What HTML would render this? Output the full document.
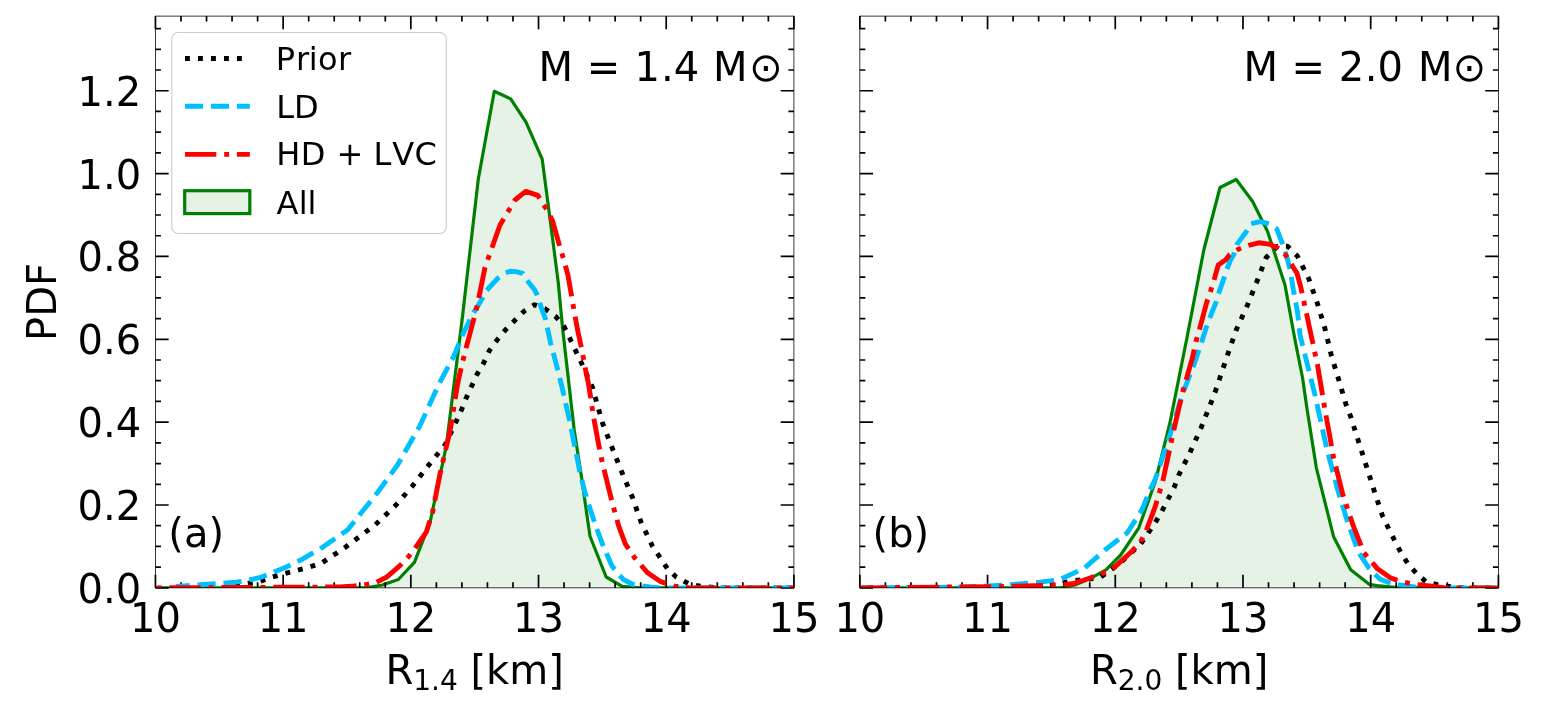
<!DOCTYPE html>
<html><head><meta charset="utf-8"><title>PDF R1.4 R2.0</title>
<style>
html,body{margin:0;padding:0;background:#fff;overflow:hidden;}
svg{display:block;}
text{font-kerning:none;}
.t40{font-family:"DejaVu Sans","Liberation Sans",sans-serif;font-size:40px;fill:#000;}
.t32{font-family:"DejaVu Sans","Liberation Sans",sans-serif;font-size:32px;fill:#000;}
.sub{font-size:28px;}
</style></head>
<body>
<svg width="1542" height="704" viewBox="0 0 1542 704">
<rect x="0" y="0" width="1542" height="704" fill="#fff"/>
<clipPath id="c0"><rect x="155.45" y="16.1" width="638.45" height="571.90"/></clipPath>
<g clip-path="url(#c0)">
<polygon points="155.4,587.85 350.3,587.85 366.3,587.85 382.3,585.00 398.3,579.50 414.4,562.30 430.0,522.50 446.3,446.00 462.3,318.00 478.3,179.00 494.3,91.25 510.7,98.90 526.0,122.20 542.2,159.20 552.7,239.40 558.2,282.00 562.7,329.40 574.2,430.00 581.2,475.00 590.0,536.25 606.2,577.00 622.2,586.30 640.0,587.85 793.9,587.85 793.9,587.85 155.45,587.85" fill="#008000" fill-opacity="0.1" stroke="none"/>
<polyline points="155.4,587.85 350.3,587.85 366.3,587.85 382.3,585.00 398.3,579.50 414.4,562.30 430.0,522.50 446.3,446.00 462.3,318.00 478.3,179.00 494.3,91.25 510.7,98.90 526.0,122.20 542.2,159.20 552.7,239.40 558.2,282.00 562.7,329.40 574.2,430.00 581.2,475.00 590.0,536.25 606.2,577.00 622.2,586.30 640.0,587.85 793.9,587.85" fill="none" stroke="#008000" stroke-width="3.2" stroke-linejoin="round"/>
</g>
<path d="M155.45,587.85v-13.2M155.45,16.1v13.2M180.99,587.85v-5.5M180.99,16.1v5.5M206.53,587.85v-5.5M206.53,16.1v5.5M232.06,587.85v-5.5M232.06,16.1v5.5M257.60,587.85v-5.5M257.60,16.1v5.5M283.14,587.85v-13.2M283.14,16.1v13.2M308.68,587.85v-5.5M308.68,16.1v5.5M334.22,587.85v-5.5M334.22,16.1v5.5M359.75,587.85v-5.5M359.75,16.1v5.5M385.29,587.85v-5.5M385.29,16.1v5.5M410.83,587.85v-13.2M410.83,16.1v13.2M436.37,587.85v-5.5M436.37,16.1v5.5M461.91,587.85v-5.5M461.91,16.1v5.5M487.44,587.85v-5.5M487.44,16.1v5.5M512.98,587.85v-5.5M512.98,16.1v5.5M538.52,587.85v-13.2M538.52,16.1v13.2M564.06,587.85v-5.5M564.06,16.1v5.5M589.60,587.85v-5.5M589.60,16.1v5.5M615.13,587.85v-5.5M615.13,16.1v5.5M640.67,587.85v-5.5M640.67,16.1v5.5M666.21,587.85v-13.2M666.21,16.1v13.2M691.75,587.85v-5.5M691.75,16.1v5.5M717.29,587.85v-5.5M717.29,16.1v5.5M742.82,587.85v-5.5M742.82,16.1v5.5M768.36,587.85v-5.5M768.36,16.1v5.5M793.90,587.85v-13.2M793.90,16.1v13.2M155.45,587.85h13.2M793.9,587.85h-13.2M155.45,567.14h5.5M793.9,567.14h-5.5M155.45,546.42h5.5M793.9,546.42h-5.5M155.45,525.71h5.5M793.9,525.71h-5.5M155.45,505.00h13.2M793.9,505.00h-13.2M155.45,484.29h5.5M793.9,484.29h-5.5M155.45,463.57h5.5M793.9,463.57h-5.5M155.45,442.86h5.5M793.9,442.86h-5.5M155.45,422.15h13.2M793.9,422.15h-13.2M155.45,401.43h5.5M793.9,401.43h-5.5M155.45,380.72h5.5M793.9,380.72h-5.5M155.45,360.01h5.5M793.9,360.01h-5.5M155.45,339.29h13.2M793.9,339.29h-13.2M155.45,318.58h5.5M793.9,318.58h-5.5M155.45,297.87h5.5M793.9,297.87h-5.5M155.45,277.16h5.5M793.9,277.16h-5.5M155.45,256.44h13.2M793.9,256.44h-13.2M155.45,235.73h5.5M793.9,235.73h-5.5M155.45,215.02h5.5M793.9,215.02h-5.5M155.45,194.30h5.5M793.9,194.30h-5.5M155.45,173.59h13.2M793.9,173.59h-13.2M155.45,152.88h5.5M793.9,152.88h-5.5M155.45,132.16h5.5M793.9,132.16h-5.5M155.45,111.45h5.5M793.9,111.45h-5.5M155.45,90.74h13.2M793.9,90.74h-13.2M155.45,70.02h5.5M793.9,70.02h-5.5M155.45,49.31h5.5M793.9,49.31h-5.5M155.45,28.60h5.5M793.9,28.60h-5.5" stroke="#000" stroke-width="1.7" fill="none"/>
<g clip-path="url(#c0)">
<polyline points="234.0,585.60 246.9,583.70 259.7,581.40 271.4,577.30 284.2,573.80 297.1,570.30 309.9,567.00 322.2,562.70 345.0,547.50 375.0,525.00 395.0,506.00 412.5,486.00 428.8,465.00 445.0,445.00 455.6,422.80 461.2,410.60 466.0,398.40 471.6,386.25 477.2,374.00 483.8,362.80 489.4,350.60 496.9,340.30 505.3,330.00 514.7,320.60 524.0,311.25 534.4,304.70 545.0,308.75 556.2,317.00 564.1,326.60 570.0,338.75 581.2,362.50 592.5,387.50 602.5,423.00 612.5,448.75 622.5,473.75 632.5,497.50 641.2,522.50 652.5,546.25 660.0,557.50 667.5,568.75 676.2,577.00 688.8,583.75 700.0,586.25 720.0,587.85 793.9,587.85" fill="none" stroke="#000000" stroke-width="4.9" stroke-dasharray="4.90,8.09" stroke-dashoffset="11.99" stroke-linejoin="round"/>
<polyline points="176.0,586.40 184.0,585.90 200.0,584.80 218.2,583.50 235.7,582.20 244.7,580.90 261.0,577.30 269.0,574.00 285.0,567.60 301.2,559.80 322.9,547.10 347.5,530.00 377.5,492.50 397.5,465.00 420.0,425.60 438.8,384.40 453.8,356.25 463.1,333.75 473.4,313.00 481.9,299.30 486.2,290.80 498.1,278.00 505.8,272.90 510.0,271.20 516.0,271.60 522.9,273.30 528.0,281.40 534.4,289.50 537.3,295.10 541.2,307.30 545.5,319.20 550.6,343.10 556.6,365.30 562.5,389.20 570.0,422.50 580.0,472.50 585.0,492.50 590.0,508.60 596.6,528.60 603.3,546.30 612.1,566.20 623.2,579.50 634.3,585.00 650.0,587.00 660.0,587.85 793.9,587.85" fill="none" stroke="#00bfff" stroke-width="4.9" stroke-dasharray="18.13,7.84" stroke-dashoffset="4.36" stroke-linejoin="round"/>
<polyline points="155.4,587.85 340.0,587.00 354.5,586.00 364.5,584.80 375.5,582.70 386.4,577.30 399.1,566.40 407.7,557.70 414.5,549.10 426.4,531.80 432.5,512.50 440.0,474.00 450.0,431.25 457.5,384.40 462.5,362.00 466.9,345.00 474.4,316.90 477.2,305.60 485.0,267.50 500.0,225.00 515.0,200.00 525.7,191.40 537.8,195.40 541.3,201.10 547.7,211.00 552.6,221.00 560.2,248.10 564.1,260.90 567.9,275.00 571.7,296.70 574.3,312.00 578.1,332.50 582.0,350.40 584.5,364.50 588.4,383.60 590.9,399.00 593.2,415.10 598.4,443.20 602.2,462.10 607.7,484.30 613.2,506.40 618.8,526.30 625.4,544.10 634.3,557.30 647.6,572.80 660.8,581.70 674.1,586.10 690.0,587.85 793.9,587.85" fill="none" stroke="#ff0000" stroke-width="4.9" stroke-dasharray="31.36,7.84,4.90,7.84" stroke-dashoffset="-14.00" stroke-linejoin="round"/>
</g>
<rect x="155.45" y="16.1" width="638.45" height="571.75" fill="none" stroke="#000" stroke-width="0.78"/>
<text x="155.45" y="632.4" text-anchor="middle" class="t40">10</text>
<text x="283.14" y="632.4" text-anchor="middle" class="t40">11</text>
<text x="410.83" y="632.4" text-anchor="middle" class="t40">12</text>
<text x="538.52" y="632.4" text-anchor="middle" class="t40">13</text>
<text x="666.21" y="632.4" text-anchor="middle" class="t40">14</text>
<text x="793.90" y="632.4" text-anchor="middle" class="t40">15</text>
<clipPath id="c1"><rect x="859.85" y="16.1" width="638.55" height="571.90"/></clipPath>
<g clip-path="url(#c1)">
<polygon points="859.7,587.85 1060.0,587.85 1075.0,585.00 1089.4,578.80 1105.9,569.80 1120.7,555.00 1138.8,527.80 1155.3,481.60 1170.0,422.50 1187.5,335.00 1203.8,250.00 1220.0,187.50 1236.2,179.50 1252.5,201.25 1267.5,231.25 1285.0,285.00 1295.0,340.00 1302.5,377.50 1307.2,410.00 1316.4,468.10 1333.6,536.70 1350.7,569.70 1369.2,584.30 1377.0,585.60 1400.0,587.85 1498.5,587.85 1498.4,587.85 859.85,587.85" fill="#008000" fill-opacity="0.1" stroke="none"/>
<polyline points="859.7,587.85 1060.0,587.85 1075.0,585.00 1089.4,578.80 1105.9,569.80 1120.7,555.00 1138.8,527.80 1155.3,481.60 1170.0,422.50 1187.5,335.00 1203.8,250.00 1220.0,187.50 1236.2,179.50 1252.5,201.25 1267.5,231.25 1285.0,285.00 1295.0,340.00 1302.5,377.50 1307.2,410.00 1316.4,468.10 1333.6,536.70 1350.7,569.70 1369.2,584.30 1377.0,585.60 1400.0,587.85 1498.5,587.85" fill="none" stroke="#008000" stroke-width="3.2" stroke-linejoin="round"/>
</g>
<path d="M859.85,587.85v-13.2M859.85,16.1v13.2M885.39,587.85v-5.5M885.39,16.1v5.5M910.93,587.85v-5.5M910.93,16.1v5.5M936.48,587.85v-5.5M936.48,16.1v5.5M962.02,587.85v-5.5M962.02,16.1v5.5M987.56,587.85v-13.2M987.56,16.1v13.2M1013.10,587.85v-5.5M1013.10,16.1v5.5M1038.64,587.85v-5.5M1038.64,16.1v5.5M1064.19,587.85v-5.5M1064.19,16.1v5.5M1089.73,587.85v-5.5M1089.73,16.1v5.5M1115.27,587.85v-13.2M1115.27,16.1v13.2M1140.81,587.85v-5.5M1140.81,16.1v5.5M1166.35,587.85v-5.5M1166.35,16.1v5.5M1191.90,587.85v-5.5M1191.90,16.1v5.5M1217.44,587.85v-5.5M1217.44,16.1v5.5M1242.98,587.85v-13.2M1242.98,16.1v13.2M1268.52,587.85v-5.5M1268.52,16.1v5.5M1294.06,587.85v-5.5M1294.06,16.1v5.5M1319.61,587.85v-5.5M1319.61,16.1v5.5M1345.15,587.85v-5.5M1345.15,16.1v5.5M1370.69,587.85v-13.2M1370.69,16.1v13.2M1396.23,587.85v-5.5M1396.23,16.1v5.5M1421.77,587.85v-5.5M1421.77,16.1v5.5M1447.32,587.85v-5.5M1447.32,16.1v5.5M1472.86,587.85v-5.5M1472.86,16.1v5.5M1498.40,587.85v-13.2M1498.40,16.1v13.2M859.85,587.85h13.2M1498.4,587.85h-13.2M859.85,567.14h5.5M1498.4,567.14h-5.5M859.85,546.42h5.5M1498.4,546.42h-5.5M859.85,525.71h5.5M1498.4,525.71h-5.5M859.85,505.00h13.2M1498.4,505.00h-13.2M859.85,484.29h5.5M1498.4,484.29h-5.5M859.85,463.57h5.5M1498.4,463.57h-5.5M859.85,442.86h5.5M1498.4,442.86h-5.5M859.85,422.15h13.2M1498.4,422.15h-13.2M859.85,401.43h5.5M1498.4,401.43h-5.5M859.85,380.72h5.5M1498.4,380.72h-5.5M859.85,360.01h5.5M1498.4,360.01h-5.5M859.85,339.29h13.2M1498.4,339.29h-13.2M859.85,318.58h5.5M1498.4,318.58h-5.5M859.85,297.87h5.5M1498.4,297.87h-5.5M859.85,277.16h5.5M1498.4,277.16h-5.5M859.85,256.44h13.2M1498.4,256.44h-13.2M859.85,235.73h5.5M1498.4,235.73h-5.5M859.85,215.02h5.5M1498.4,215.02h-5.5M859.85,194.30h5.5M1498.4,194.30h-5.5M859.85,173.59h13.2M1498.4,173.59h-13.2M859.85,152.88h5.5M1498.4,152.88h-5.5M859.85,132.16h5.5M1498.4,132.16h-5.5M859.85,111.45h5.5M1498.4,111.45h-5.5M859.85,90.74h13.2M1498.4,90.74h-13.2M859.85,70.02h5.5M1498.4,70.02h-5.5M859.85,49.31h5.5M1498.4,49.31h-5.5M859.85,28.60h5.5M1498.4,28.60h-5.5" stroke="#000" stroke-width="1.7" fill="none"/>
<g clip-path="url(#c1)">
<polyline points="859.7,587.85 1040.0,587.20 1072.9,580.80 1099.3,578.00 1120.0,563.00 1140.5,544.20 1147.9,533.50 1155.3,522.50 1161.9,511.30 1167.7,499.80 1174.2,487.40 1178.8,475.00 1190.0,452.50 1201.2,427.50 1215.0,392.50 1227.5,355.00 1236.2,330.00 1247.5,305.00 1257.5,280.00 1266.2,257.50 1277.5,246.25 1287.5,246.25 1297.5,256.25 1308.8,278.75 1317.5,303.75 1325.0,328.75 1331.2,355.00 1338.8,380.00 1346.2,405.00 1350.7,416.60 1358.6,441.70 1366.6,466.80 1374.5,491.80 1382.4,515.60 1390.3,532.00 1400.9,552.60 1407.5,563.10 1416.7,573.70 1426.0,581.60 1440.5,585.60 1460.0,587.85 1498.5,587.85" fill="none" stroke="#000000" stroke-width="4.9" stroke-dasharray="4.90,8.09" stroke-dashoffset="4.40" stroke-linejoin="round"/>
<polyline points="859.9,587.85 960.0,587.20 1007.5,585.00 1040.0,582.10 1059.8,579.70 1084.5,568.10 1105.9,549.20 1127.3,532.70 1142.1,509.60 1150.0,490.00 1155.3,479.00 1160.0,465.00 1170.0,435.00 1182.5,394.00 1193.8,365.00 1201.1,343.80 1206.2,327.80 1209.4,318.80 1215.8,302.90 1218.4,293.90 1224.1,277.90 1226.7,269.60 1230.5,260.00 1233.9,254.30 1237.1,244.10 1246.6,231.30 1251.1,223.60 1260.0,221.70 1269.0,223.60 1276.7,228.80 1282.4,243.50 1285.2,251.00 1290.1,269.60 1293.3,289.50 1297.5,312.00 1300.0,335.00 1307.5,365.00 1315.0,395.00 1318.8,412.50 1327.0,449.60 1337.5,489.20 1348.1,523.50 1358.6,552.60 1369.2,568.40 1379.8,579.00 1393.0,584.30 1406.2,585.60 1420.0,587.85 1498.5,587.85" fill="none" stroke="#00bfff" stroke-width="4.9" stroke-dasharray="18.13,7.84" stroke-dashoffset="5.50" stroke-linejoin="round"/>
<polyline points="859.9,587.85 1007.5,586.50 1048.2,585.40 1072.9,583.80 1087.8,578.80 1110.8,570.60 1130.6,552.50 1139.7,543.40 1145.4,532.70 1155.3,506.40 1162.7,481.60 1173.8,430.00 1182.5,392.50 1192.5,357.50 1196.0,341.20 1199.2,330.40 1206.9,301.60 1210.7,290.70 1213.9,280.50 1218.2,265.10 1225.4,260.00 1229.4,255.00 1238.3,249.20 1248.6,245.40 1258.8,242.80 1269.0,244.10 1278.0,247.90 1285.6,255.00 1292.0,265.20 1297.1,273.50 1301.0,288.20 1302.5,295.00 1310.0,330.00 1317.5,365.00 1322.5,395.00 1325.0,410.00 1333.6,457.50 1342.8,494.50 1353.4,526.20 1363.9,552.60 1377.1,568.40 1390.3,577.70 1400.9,581.60 1414.1,584.30 1427.3,585.60 1445.0,587.85 1498.5,587.85" fill="none" stroke="#ff0000" stroke-width="4.9" stroke-dasharray="31.36,7.84,4.90,7.84" stroke-dashoffset="4.00" stroke-linejoin="round"/>
</g>
<rect x="859.85" y="16.1" width="638.55" height="571.75" fill="none" stroke="#000" stroke-width="0.78"/>
<text x="859.85" y="632.4" text-anchor="middle" class="t40">10</text>
<text x="987.56" y="632.4" text-anchor="middle" class="t40">11</text>
<text x="1115.27" y="632.4" text-anchor="middle" class="t40">12</text>
<text x="1242.98" y="632.4" text-anchor="middle" class="t40">13</text>
<text x="1370.69" y="632.4" text-anchor="middle" class="t40">14</text>
<text x="1498.40" y="632.4" text-anchor="middle" class="t40">15</text>
<text x="141.2" y="602.85" text-anchor="end" class="t40">0.0</text>
<text x="141.2" y="520.00" text-anchor="end" class="t40">0.2</text>
<text x="141.2" y="437.15" text-anchor="end" class="t40">0.4</text>
<text x="141.2" y="354.29" text-anchor="end" class="t40">0.6</text>
<text x="141.2" y="271.44" text-anchor="end" class="t40">0.8</text>
<text x="141.2" y="188.59" text-anchor="end" class="t40">1.0</text>
<text x="141.2" y="105.74" text-anchor="end" class="t40">1.2</text>
<text transform="translate(56,302.0) rotate(-90)" text-anchor="middle" class="t40">PDF</text>
<text x="474.65" y="683.9" text-anchor="middle" class="t40">R<tspan class="sub" dy="6.2">1.4</tspan><tspan dy="-6.2"> [km]</tspan></text>
<text x="1179.1" y="683.9" text-anchor="middle" class="t40">R<tspan class="sub" dy="6.2">2.0</tspan><tspan dy="-6.2"> [km]</tspan></text>
<text x="542.19" y="80.8" dx="-3.70 0.00 1.00 0.00 1.60 0.90 0.10 0.00 1.10 1.40" class="t40">M = 1.4 M⊙</text>
<text x="1246.49" y="81.2" dx="-3.10 0.00 1.00 0.00 0.80 0.60 0.10 0.00 2.20 0.00" class="t40">M = 2.0 M⊙</text>
<text x="168.3" y="546.6" class="t40">(a)</text>
<text x="872.6" y="546.6" class="t40">(b)</text>
<rect x="171.8" y="32.5" width="274.5" height="201" rx="6.5" ry="6.5" fill="#fff" fill-opacity="0.8" stroke="#cccccc" stroke-width="1.1"/>
<line x1="185" y1="58.5" x2="249.8" y2="58.5" stroke="#000000" stroke-width="4.9" stroke-dasharray="4.90,8.09"/>
<text x="275" y="69.8" dx="0.70 1.10 -0.60 0.40 0.40" class="t32">Prior</text>
<line x1="185" y1="106.2" x2="249.8" y2="106.2" stroke="#00bfff" stroke-width="4.9" stroke-dasharray="18.13,7.84"/>
<text x="275" y="118.0" dx="1.20 0.00" class="t32">LD</text>
<line x1="185" y1="154.4" x2="249.8" y2="154.4" stroke="#ff0000" stroke-width="4.9" stroke-dasharray="31.36,7.84,4.90,7.84"/>
<text x="275" y="165.4" dx="1.30 0.50 0.00 0.70 0.00 0.20 0.90 0.30" class="t32">HD + LVC</text>
<rect x="184.7" y="190.7" width="65.1" height="22.9" fill="#e6f2e6" stroke="#008000" stroke-width="3.2"/>
<text x="275" y="213.6" dx="1.50 0.30 0.00" class="t32">All</text>
</svg>
</body></html>
